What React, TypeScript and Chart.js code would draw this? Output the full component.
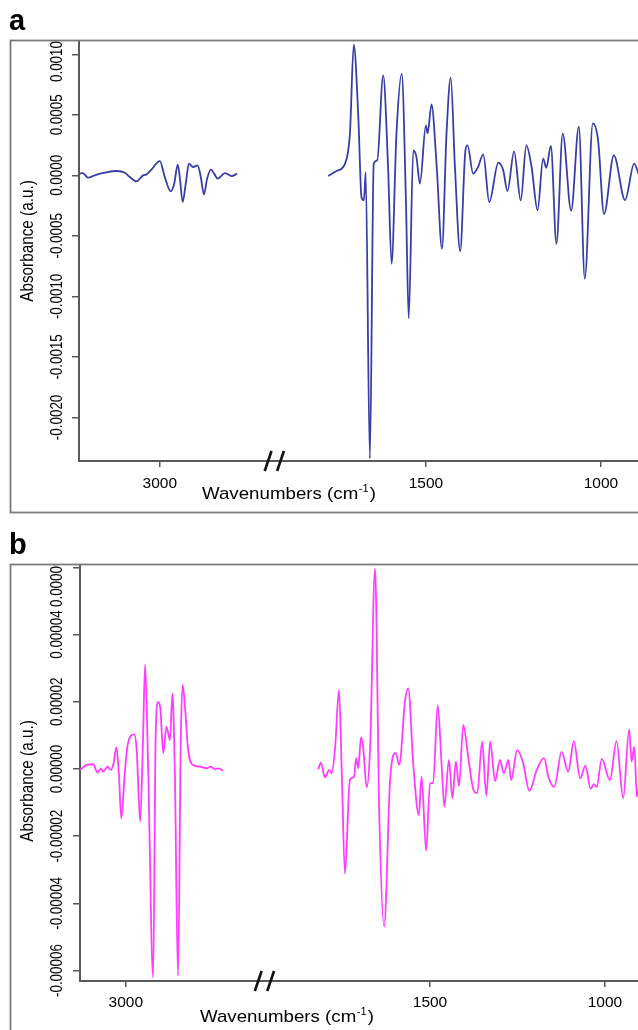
import React, { useEffect, useRef } from "react";
import { Chart, registerables } from "chart.js";

Chart.register(...registerables);

// ---------------- data ----------------
const X_TICK_WAVENUMBERS = [3000, 1500, 1000];
const X_TICK_LABELS = ["3000", "1500", "1000"];
const X_TITLE_MAIN = "Wavenumbers (cm";
const X_TITLE_SUP = "-1";
const X_TITLE_END = ")";
const Y_TITLE = "Absorbance (a.u.)";

// Panel a
const A_Y_TICKS = [-0.002, -0.0015, -0.001, -0.0005, 0, 0.0005, 0.001];
const A_Y_TICK_LABELS = ["-0.0020", "-0.0015", "-0.0010", "-0.0005", "0.0000", "0.0005", "0.0010"];
const A_LEFT_WN = [3229, 3220, 3205, 3186, 3157, 3124, 3100, 3086, 3067, 3048, 3038, 3026, 3000, 2986, 2969, 2959, 2949, 2943, 2935, 2926, 2917, 2905, 2892, 2883, 2874, 2865, 2854, 2845, 2835, 2814, 2795, 2779];
const A_LEFT_ABS = [0.000014, 0.000019, -0.000019, 0, 0.000022, 0.000036, 0.000022, -0.000014, -0.00005, 0, 0.000008, 0.000041, 0.000118, -0.000014, -0.000132, -0.000069, 0.000088, -0.000014, -0.000221, -0.000069, 0.000097, 0.000069, 0.000083, -0.000014, -0.000157, -0.000027, 0.000047, 0.000014, -0.000027, 0.000019, -0.000006, 0.000014];
const A_RIGHT_WN = [1779, 1755, 1731, 1717, 1706, 1693, 1684, 1677, 1672, 1660, 1649, 1639, 1622, 1608, 1598, 1584, 1569, 1557, 1549, 1536, 1527, 1517, 1500, 1495, 1484, 1469, 1454, 1441, 1429, 1417, 1402, 1387, 1381, 1365, 1351, 1336, 1319, 1293, 1279, 1267, 1248, 1229, 1213, 1198, 1181, 1165, 1156, 1143, 1127, 1109, 1085, 1063, 1046, 1023, 1008, 991, 963, 931, 905, 894, 885];
const A_RIGHT_ABS = [-0.000006, 0.000036, 0.000097, 0.000345, 0.00108, 0.000482, -0.000179, -0.000207, 0.000027, -0.00234, 0.000097, 0.000124, 0.000826, 0.000069, -0.00073, 0.000347, 0.00084, -0.000207, -0.00118, 0.000207, 0.000151, -0.000069, 0.000413, 0.000347, 0.000587, 0.000069, -0.000606, 0.000347, 0.000807, 0.000069, -0.000626, 0.000207, 0.000248, 0.000014, 0.000069, 0.000174, -0.000221, 0.000105, 0.000041, -0.00013, 0.000198, -0.000207, 0.000248, 0.000069, -0.000289, 0.000138, 0.000062, 0.000244, -0.000564, 0.000345, -0.000292, 0.000402, -0.000853, 0.00043, 0.000289, -0.00032, 0.000165, -0.000204, 0.000097, 0.000027, -0.00005];

// Panel b
const B_Y_TICKS = [-0.00006, -0.00004, -0.00002, 0, 0.00002, 0.00004, 0.00006];
const B_Y_TICK_LABELS = ["-0.00006", "-0.00004", "-0.00002", "0.00000", "0.00002", "0.00004", "0.00006"];
const B_LEFT_WN = [3131, 3112, 3093, 3081, 3071, 3065, 3052, 3043, 3035, 3027, 3020, 3013, 3003, 2995, 2976, 2969, 2959, 2951, 2945, 2936, 2922, 2915, 2908, 2902, 2893, 2884, 2874, 2867, 2860, 2851, 2843, 2838, 2831, 2822, 2808, 2789, 2769, 2757, 2746, 2736, 2722];
const B_LEFT_ABS = [-3e-7, 1.2e-6, 1.4e-6, -1.1e-6, 2e-7, -8e-7, 7e-7, -3e-7, 1.7e-6, 6.4e-6, -1.2e-6, -1.48e-5, -1.2e-6, 7.1e-6, 1.03e-5, 5.6e-6, -1.57e-5, 8.6e-6, 3.11e-5, -1.2e-6, -6.21e-5, 8.6e-6, 1.99e-5, 1.85e-5, 4.7e-6, 1.26e-5, 8.6e-6, 2.25e-5, -1.2e-6, -6.15e-5, 8.6e-6, 2.5e-5, 1.85e-5, 5.6e-6, 1.2e-6, 7e-7, 2e-7, 7e-7, -1e-7, 2e-7, -5e-7];
const B_RIGHT_WN = [1819, 1812, 1800, 1788, 1781, 1771, 1760, 1752, 1743, 1729, 1717, 1711, 1705, 1697, 1691, 1681, 1671, 1657, 1645, 1631, 1614, 1598, 1588, 1571, 1562, 1548, 1532, 1524, 1511, 1500, 1491, 1478, 1467, 1459, 1446, 1436, 1426, 1417, 1405, 1391, 1376, 1365, 1351, 1339, 1328, 1314, 1300, 1289, 1276, 1268, 1251, 1235, 1216, 1195, 1174, 1162, 1145, 1124, 1105, 1089, 1071, 1056, 1041, 1031, 1024, 1009, 986, 967, 948, 931, 924, 916, 909, 900];
const B_RIGHT_ABS = [-1e-7, 1.9e-6, -2.5e-6, -3e-7, -1.3e-6, 6.6e-6, 2.35e-5, -1.3e-6, -3.12e-5, -3.3e-6, -2.3e-6, 3.2e-6, 2e-7, 9.4e-6, 6.6e-6, -5.5e-6, 6.6e-6, 5.97e-5, -1.32e-5, -4.69e-5, -3.3e-6, 4.8e-6, 1.2e-6, 2.05e-5, 2.4e-5, 1.7e-6, -1.37e-5, -2.3e-6, -2.44e-5, -4.2e-6, -4.2e-6, 1.9e-5, 1.7e-6, -1.12e-5, 2.7e-6, -8.7e-6, 2.2e-6, -5.1e-6, 1.31e-5, 3.7e-6, -6.2e-6, -7.2e-6, 8.1e-6, -8e-6, 8.1e-6, -3.6e-6, 2.7e-6, -1.3e-6, 2.7e-6, -3.3e-6, 5.6e-6, 2.2e-6, -6.5e-6, -3e-7, 3.2e-6, -2.3e-6, -5.3e-6, 5.1e-6, -8e-7, 8.3e-6, -2.8e-6, 1e-6, -5.9e-6, -4.5e-6, -5.4e-6, 3e-6, -3.3e-6, 8.3e-6, -8.7e-6, 1.18e-5, 2.2e-6, 6.6e-6, -8.3e-6, -3e-6];

// ---------------- styling / layout ----------------
const FONT = '"Liberation Sans", Arial, Helvetica, sans-serif';
const AXIS_COLOR = "#595959";
const BOX_COLOR = "#7a7a7a";
const TEXT_COLOR = "#000";

type PanelCfg = {
  letter: string;
  top: number;
  height: number;
  color: string;
  leftWn: number[];
  leftAbs: number[];
  rightWn: number[];
  rightAbs: number[];
  gap: number;
  xMinPos: number;
  xMaxPos: number;
  yMin: number;
  yMax: number;
  yTicks: number[];
  yTickLabels: string[];
  chartTop: number;
  chartBottom: number;
  chartLeft: number;
  boxTop: number;
  boxBottom: number;
  letterBaseline: number;
  xLabelBaseline: number;
  titleBaseline: number;
  titleX: number;
  yTitleCenter: number;
  breakPos: number;
  topLabelEnd: number;
};

const PANEL_A: PanelCfg = {
  letter: "a",
  top: 0,
  height: 515,
  color: "#3c3ca6",
  leftWn: A_LEFT_WN,
  leftAbs: A_LEFT_ABS,
  rightWn: A_RIGHT_WN,
  rightAbs: A_RIGHT_ABS,
  gap: 740,
  xMinPos: 894,
  xMaxPos: 2491,
  yMin: -0.00236,
  yMax: 0.00111,
  yTicks: A_Y_TICKS,
  yTickLabels: A_Y_TICK_LABELS,
  chartTop: 41,
  chartBottom: 461,
  chartLeft: 79,
  boxTop: 40,
  boxBottom: 512,
  letterBaseline: 30,
  xLabelBaseline: 488,
  titleBaseline: 499,
  titleX: 202,
  yTitleCenter: 241,
  breakPos: 1933,
  topLabelEnd: 82,
};

const PANEL_B: PanelCfg = {
  letter: "b",
  top: 515,
  height: 515,
  color: "#ff3cff",
  leftWn: B_LEFT_WN,
  leftAbs: B_LEFT_ABS,
  rightWn: B_RIGHT_WN,
  rightAbs: B_RIGHT_ABS,
  gap: 631,
  xMinPos: 905.7,
  xMaxPos: 2500,
  yMin: -0.0000631,
  yMax: 0.0000604,
  yTicks: B_Y_TICKS,
  yTickLabels: B_Y_TICK_LABELS,
  chartTop: 51,
  chartBottom: 466,
  chartLeft: 80,
  boxTop: 49,
  boxBottom: 800,
  letterBaseline: 39,
  xLabelBaseline: 492,
  titleBaseline: 507,
  titleX: 200,
  yTitleCenter: 266,
  breakPos: 1973,
  topLabelEnd: 92,
};

function pos(wn: number, gap: number) {
  return wn > 2200 ? wn - gap : wn;
}

function makeDecor(p: PanelCfg) {
  return {
    id: "decor_" + p.letter,
    beforeDraw(chart: any) {
      const ctx = chart.ctx;
      ctx.save();
      ctx.fillStyle = "#fff";
      ctx.fillRect(0, 0, chart.width, chart.height);
      ctx.restore();
    },
    afterDraw(chart: any) {
      const ctx: CanvasRenderingContext2D = chart.ctx;
      const xs = chart.scales.x;
      const ys = chart.scales.y;
      ctx.save();

      // panel letter
      ctx.fillStyle = "#000";
      ctx.font = `bold 29px ${FONT}`;
      ctx.textAlign = "left";
      ctx.textBaseline = "alphabetic";
      ctx.fillText(p.letter, 9, p.letterBaseline);

      // y tick labels (rotated); the topmost one sits inside the frame, clipped by it
      ctx.save();
      ctx.beginPath();
      ctx.rect(0, p.boxTop + 1, chart.width, chart.height);
      ctx.clip();
      ctx.fillStyle = TEXT_COLOR;
      const last = p.yTicks.length - 1;
      p.yTicks.forEach((v, i) => {
        let y = ys.getPixelForValue(v);
        ctx.font = `13.4px ${FONT}`;
        const len = ctx.measureText(p.yTickLabels[i]).width;
        if (i === last) y = p.topLabelEnd - len / 2;
        ctx.save();
        ctx.translate(61.5, y);
        ctx.rotate(-Math.PI / 2);
        ctx.scale(1, 1.3);
        ctx.textAlign = "center";
        ctx.textBaseline = "alphabetic";
        ctx.fillText(p.yTickLabels[i], 0, 0);
        ctx.restore();
      });
      ctx.restore();

      // frame box
      ctx.strokeStyle = BOX_COLOR;
      ctx.lineWidth = 1.8;
      ctx.strokeRect(10.5, p.boxTop + 0.5, 2000, p.boxBottom - p.boxTop);

      // y title
      ctx.save();
      ctx.fillStyle = TEXT_COLOR;
      ctx.translate(33, p.yTitleCenter);
      ctx.rotate(-Math.PI / 2);
      ctx.scale(1, 1.2);
      ctx.font = `15.3px ${FONT}`;
      ctx.textAlign = "center";
      ctx.textBaseline = "alphabetic";
      ctx.fillText(Y_TITLE, 0, 0);
      ctx.restore();

      // x tick labels
      ctx.fillStyle = TEXT_COLOR;
      ctx.font = `15.5px ${FONT}`;
      ctx.textAlign = "center";
      ctx.textBaseline = "alphabetic";
      X_TICK_WAVENUMBERS.forEach((wn, i) => {
        const x = xs.getPixelForValue(pos(wn, p.gap));
        ctx.fillText(X_TICK_LABELS[i], x, p.xLabelBaseline);
      });

      // x title with superscript
      ctx.save();
      ctx.translate(p.titleX, p.titleBaseline);
      ctx.scale(1.1, 1);
      ctx.textAlign = "left";
      ctx.font = `17px ${FONT}`;
      ctx.fillText(X_TITLE_MAIN, 0, 0);
      let w = ctx.measureText(X_TITLE_MAIN).width;
      ctx.font = `10px ${FONT}`;
      ctx.fillText(X_TITLE_SUP, w + 0.5, -7);
      w += ctx.measureText(X_TITLE_SUP).width + 1.5;
      ctx.font = `17px ${FONT}`;
      ctx.fillText(X_TITLE_END, w, 0);
      ctx.restore();

      // axis break marks "//"
      const bx = xs.getPixelForValue(p.breakPos);
      const by = chart.chartArea.bottom;
      ctx.strokeStyle = "#111";
      ctx.lineWidth = 2.6;
      for (const dx of [-6.2, 6.2]) {
        ctx.beginPath();
        ctx.moveTo(bx + dx - 3.4, by + 10);
        ctx.lineTo(bx + dx + 3.4, by - 10);
        ctx.stroke();
      }
      ctx.restore();
    },
  };
}

function Panel({ p }: { p: PanelCfg }) {
  const ref = useRef<HTMLCanvasElement | null>(null);
  useEffect(() => {
    const canvas = ref.current;
    if (!canvas) return;
    const leftData = p.leftWn.map((wn, i) => ({ x: pos(wn, p.gap), y: p.leftAbs[i] }));
    const rightData = p.rightWn.map((wn, i) => ({ x: pos(wn, p.gap), y: p.rightAbs[i] }));
    const H = p.height;
    const lineDs = (data: any[]) => ({
      data,
      borderColor: p.color,
      borderWidth: 1.8,
      pointRadius: 0,
      fill: false,
      cubicInterpolationMode: "monotone" as const,
    });
    const chart = new Chart(canvas, {
      type: "line",
      data: { datasets: [lineDs(leftData), lineDs(rightData)] },
      options: {
        responsive: false,
        animation: false,
        events: [],
        layout: { padding: { top: p.chartTop, left: 0, right: 0, bottom: 0 } },
        plugins: { legend: { display: false }, tooltip: { enabled: false } },
        scales: {
          x: {
            type: "linear",
            reverse: true,
            min: p.xMinPos,
            max: p.xMaxPos,
            afterBuildTicks: (s: any) => {
              s.ticks = X_TICK_WAVENUMBERS.map((wn) => ({ value: pos(wn, p.gap) }));
            },
            afterFit: (s: any) => {
              s.height = H - p.chartBottom;
            },
            ticks: { display: false },
            grid: { display: true, drawOnChartArea: false, drawTicks: true, tickLength: 6, color: AXIS_COLOR, lineWidth: 1.5 },
            border: { display: true, color: AXIS_COLOR, width: 2 },
          },
          y: {
            type: "linear",
            min: p.yMin,
            max: p.yMax,
            afterBuildTicks: (s: any) => {
              s.ticks = p.yTicks.map((v) => ({ value: v }));
            },
            afterFit: (s: any) => {
              s.width = p.chartLeft;
            },
            ticks: { display: false },
            grid: { display: true, drawOnChartArea: false, drawTicks: true, tickLength: 7, color: AXIS_COLOR, lineWidth: 1.5 },
            border: { display: true, color: AXIS_COLOR, width: 2 },
          },
        },
      } as any,
      plugins: [makeDecor(p)],
    });
    return () => chart.destroy();
  }, [p]);
  return (
    <canvas
      ref={ref}
      width={638}
      height={p.height}
      style={{ position: "absolute", left: 0, top: p.top, width: 638, height: p.height, display: "block" }}
    />
  );
}

export default function App() {
  return (
    <div style={{ position: "absolute", left: 0, top: 0, width: 638, height: 1030, overflow: "hidden", background: "#fff" }}>
      <Panel p={PANEL_A} />
      <Panel p={PANEL_B} />
    </div>
  );
}
